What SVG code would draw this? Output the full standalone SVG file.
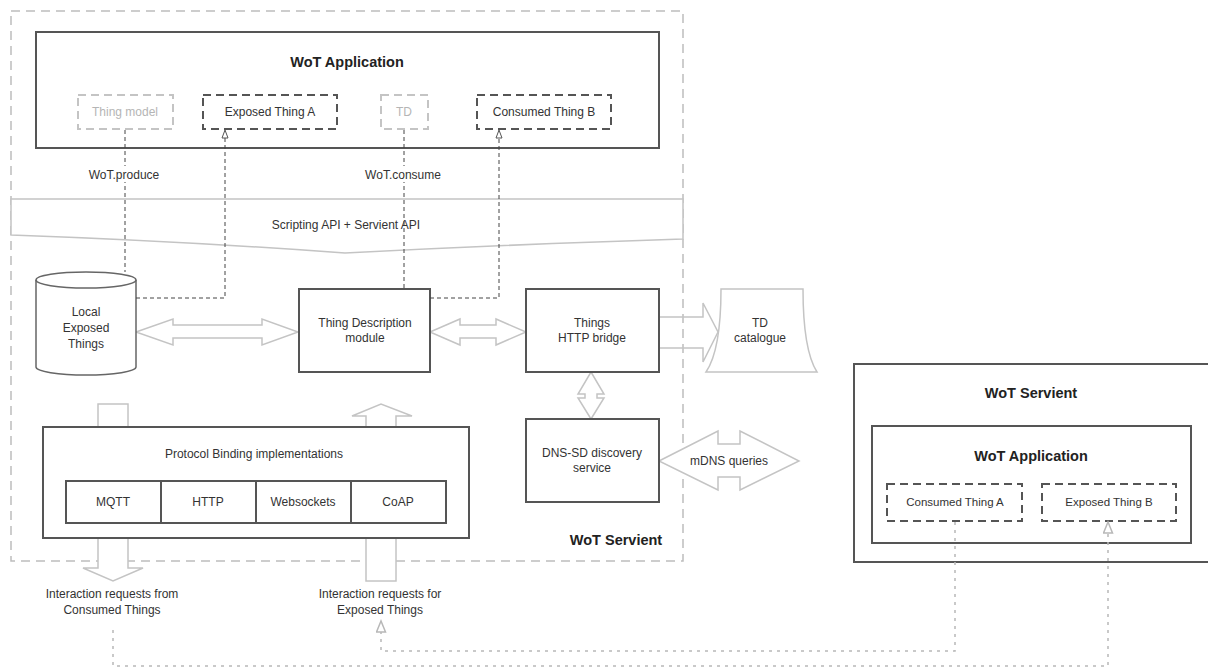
<svg xmlns="http://www.w3.org/2000/svg" width="1208" height="668" viewBox="0 0 1208 668">
  <defs>
    <style>
      .box { fill: #fff; stroke: #555; stroke-width: 2; }
      .thin { fill: #fff; stroke: #666; stroke-width: 1.5; }
      .dbox { fill: #fff; stroke: #555; stroke-width: 2; stroke-dasharray: 8 5; }
      .lbox { fill: #fff; stroke: #c4c4c4; stroke-width: 2; stroke-dasharray: 8 5; }
      .frame { fill: none; stroke: #bdbdbd; stroke-width: 1.5; stroke-dasharray: 9 6; }
      .block { fill: #fff; stroke: #c4c4c4; stroke-width: 1.5; }
      .blockn { fill: none; stroke: #c4c4c4; stroke-width: 1.5; }
      .api { fill: #fff; stroke: #c4c4c4; stroke-width: 1.5; }
      .conn { fill: none; stroke: #444; stroke-width: 1; stroke-dasharray: 4 3; }
      .dots { fill: none; stroke: #b8b8b8; stroke-width: 1.5; stroke-dasharray: 3 5; }
      text { font-family: "Liberation Sans", Arial, sans-serif; font-size: 12px; fill: #333; text-anchor: middle; }
      .title { font-size: 14.5px; font-weight: bold; fill: #222; }
      .faint { fill: #b5b5b5; }
      .lbl { font-size: 11.5px; }
    </style>
    <marker id="tri" markerWidth="10" markerHeight="10" refX="9" refY="4" orient="auto" markerUnits="userSpaceOnUse">
      <path d="M1,1 L9,4 L1,7 Z" fill="#fff" stroke="#555" stroke-width="1"/>
    </marker>
    <marker id="triLight" markerWidth="14" markerHeight="12" refX="12" refY="5.5" orient="auto" markerUnits="userSpaceOnUse">
      <path d="M1,1 L12,5.5 L1,10 Z" fill="#fff" stroke="#b8b8b8" stroke-width="1.5"/>
    </marker>
  </defs>

  <rect width="1208" height="668" fill="#fff"/>

  <!-- local servient frame -->
  <g id="servient-local">
    <rect class="frame" x="11" y="11" width="672" height="550"/>
    <text class="title" x="616" y="545" font-size="15">WoT Servient</text>
  </g>

  <!-- block arrows (data flows) -->
  <g id="flows">
    <polygon class="block" points="136,332 173,319 173,325 262,325 262,319 298,332 262,345 262,338 173,338 173,345"/>
    <polygon class="block" points="430,332 460,319 460,325 496,325 496,319 526,332 496,345 496,338 460,338 460,345"/>
    <polygon class="blockn" points="659,317 703,317 703,303 718,332 703,362 703,348 659,348"/>
    <polygon class="block" points="591,372 604,394 597,394 597,398 604,398 591,419 578,398 585,398 585,394 578,394"/>
    <polygon class="block" points="659,461 718,431 718,444 740,444 740,431 799,461 740,490 740,477 718,477 718,490"/>
    <rect class="block" x="98" y="404" width="30" height="24"/>
    <polygon class="block" points="366,428 366,416 352,416 381,404 412,416 396,416 396,428"/>
    <polygon class="block" points="98,537 98,568 83,568 113,581 143,568 128,568 128,537"/>
    <rect class="block" x="366" y="537" width="30" height="44"/>
    <text x="729" y="465">mDNS queries</text>
  </g>

  <!-- application -->
  <g id="wot-application">
    <rect class="box" x="36" y="32" width="623" height="116"/>
    <text class="title" x="347" y="67">WoT Application</text>
  </g>
  <g id="thing-model">
    <rect class="lbox" x="78" y="95" width="95" height="34"/>
    <text class="faint" x="125" y="116">Thing model</text>
  </g>
  <g id="exposed-thing-a">
    <rect class="dbox" x="203" y="95" width="134" height="34"/>
    <text x="270" y="116">Exposed Thing A</text>
  </g>
  <g id="td">
    <rect class="lbox" x="381" y="95" width="47" height="34"/>
    <text class="faint" x="404" y="116">TD</text>
  </g>
  <g id="consumed-thing-b">
    <rect class="dbox" x="477" y="95" width="134" height="34"/>
    <text x="544" y="116">Consumed Thing B</text>
  </g>

  <!-- API band -->
  <g id="scripting-api">
    <path class="api" d="M11,199 H683 V239 Q520,244 345,253 Q180,241 11,235 Z"/>
    <text x="346" y="229">Scripting API + Servient API</text>
  </g>

  <g id="local-exposed-things">
    <path class="thin" d="M36,280 V367 A50,8 0 0 0 136,367 V280 A50,8 0 0 0 36,280 Z"/>
    <path fill="none" stroke="#666" stroke-width="1.5" d="M36,280 A50,8 0 0 0 136,280"/>
    <text x="86" y="316">Local</text>
    <text x="86" y="332">Exposed</text>
    <text x="86" y="348">Things</text>
  </g>

  <g id="td-module">
    <rect class="box" x="299" y="289" width="131" height="83"/>
    <text x="365" y="327">Thing Description</text>
    <text x="365" y="342">module</text>
  </g>

  <g id="http-bridge">
    <rect class="box" x="526" y="289" width="133" height="83"/>
    <text x="592" y="327">Things</text>
    <text x="592" y="342">HTTP bridge</text>
  </g>

  <g id="td-catalogue">
    <path class="block" d="M721,289 H803 Q803,350 817,372 H706 Q721,350 721,289 Z"/>
    <text x="760" y="327">TD</text>
    <text x="760" y="342">catalogue</text>
  </g>

  <g id="dns-sd">
    <rect class="box" x="526" y="419" width="133" height="83"/>
    <text x="592" y="457">DNS-SD discovery</text>
    <text x="592" y="472">service</text>
  </g>

  <g id="protocol-bindings">
    <rect class="box" x="43" y="427" width="426" height="111"/>
    <text x="254" y="458">Protocol Binding implementations</text>
    <rect class="box" x="66" y="481" width="380" height="42"/>
    <line x1="161" y1="481" x2="161" y2="523" stroke="#555" stroke-width="2"/>
    <line x1="256" y1="481" x2="256" y2="523" stroke="#555" stroke-width="2"/>
    <line x1="351" y1="481" x2="351" y2="523" stroke="#555" stroke-width="2"/>
    <text x="113" y="506">MQTT</text>
    <text x="208" y="506">HTTP</text>
    <text x="303" y="506">Websockets</text>
    <text x="398" y="506">CoAP</text>
  </g>

  <g id="requests-from-consumed">
    <text x="112" y="598">Interaction requests from</text>
    <text x="112" y="614">Consumed Things</text>
  </g>
  <g id="requests-for-exposed">
    <text x="380" y="598">Interaction requests for</text>
    <text x="380" y="614">Exposed Things</text>
  </g>

  <!-- remote servient -->
  <g id="servient-remote">
    <rect class="box" x="854" y="364" width="364" height="198"/>
    <text class="title" x="1031" y="398" font-size="15">WoT Servient</text>
  </g>
  <g id="wot-application-remote">
    <rect class="box" x="872" y="426" width="319" height="117"/>
    <text class="title" x="1031" y="461">WoT Application</text>
  </g>
  <g id="consumed-thing-a">
    <rect class="dbox" x="887" y="484" width="135" height="37"/>
    <text class="lbl" x="955" y="506">Consumed Thing A</text>
  </g>
  <g id="exposed-thing-b">
    <rect class="dbox" x="1042" y="484" width="134" height="37"/>
    <text class="lbl" x="1109" y="506">Exposed Thing B</text>
  </g>

  <!-- dashed API calls and remote interactions -->
  <g id="connectors">
    <path class="conn" d="M125,130 V272"/>
    <path class="conn" d="M136,298 H225 V130" marker-end="url(#tri)"/>
    <path class="conn" d="M404,130 V289"/>
    <path class="conn" d="M430,298 H499 V130" marker-end="url(#tri)"/>
    <path class="dots" d="M955,522 V651 H381 V621" marker-end="url(#triLight)"/>
    <path class="dots" d="M113,630 V666 H1108 V522" marker-end="url(#triLight)"/>
    <rect x="84" y="166" width="82" height="16" fill="#fff"/>
    <rect x="360" y="166" width="88" height="16" fill="#fff"/>
    <text x="124" y="179">WoT.produce</text>
    <text x="403" y="179">WoT.consume</text>
  </g>
</svg>
